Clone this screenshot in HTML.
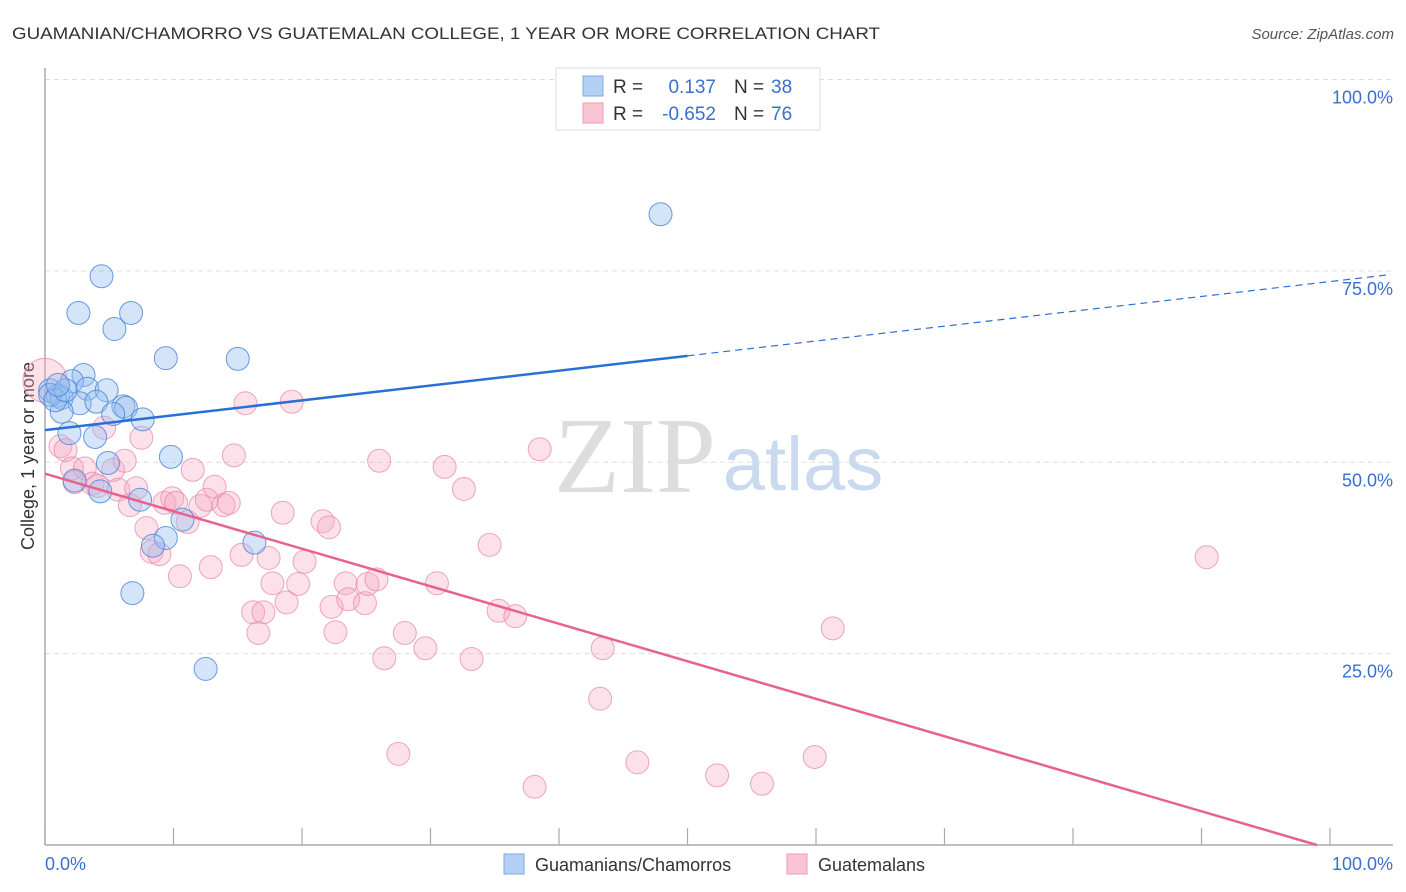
<!DOCTYPE html>
<html><head><meta charset="utf-8"><style>
body{margin:0;background:#fff;}
svg{display:block;font-family:"Liberation Sans",sans-serif;}
</style></head><body>
<svg id="chart" width="1406" height="892">
<text x="12" y="39" font-size="17" fill="#333" textLength="868" lengthAdjust="spacingAndGlyphs">GUAMANIAN/CHAMORRO VS GUATEMALAN COLLEGE, 1 YEAR OR MORE CORRELATION CHART</text>
<text x="1394" y="39" font-size="15" font-style="italic" fill="#555" text-anchor="end">Source: ZipAtlas.com</text>
<text x="34" y="456" font-size="18" fill="#333" text-anchor="middle" transform="rotate(-90 34 456)">College, 1 year or more</text>
<g>
<text x="635" y="492" font-size="108" font-family="Liberation Serif, serif" fill="#ddd" text-anchor="middle">ZIP</text>
<text x="803" y="490" font-size="76" fill="#c9daf0" text-anchor="middle">atlas</text>
</g>
<g id="grid"></g>
<g id="axes"></g>
<g id="marks"></g>
<g>
<rect x="556" y="68" width="264" height="62" fill="#fff" stroke="#ddd"/>
<rect x="583" y="76" width="20" height="20" fill="#b5d0f5" stroke="#7aa7e6"/>
<rect x="583" y="103" width="20" height="20" fill="#f9c5d4" stroke="#ee9ab3"/>
<text x="613" y="93" font-size="19" fill="#333">R = </text>
<text x="716" y="93" font-size="19" fill="#3a6fd0" text-anchor="end">0.137</text>
<text x="734" y="93" font-size="19" fill="#333">N = </text>
<text x="771" y="93" font-size="19" fill="#3a6fd0">38</text>
<text x="613" y="120" font-size="19" fill="#333">R = </text>
<text x="716" y="120" font-size="19" fill="#3a6fd0" text-anchor="end">-0.652</text>
<text x="734" y="120" font-size="19" fill="#333">N = </text>
<text x="771" y="120" font-size="19" fill="#3a6fd0">76</text>
</g>
<g>
<rect x="504" y="854" width="20" height="20" fill="#b5d0f5" stroke="#7aa7e6"/>
<text x="535" y="871" font-size="18" fill="#333">Guamanians/Chamorros</text>
<rect x="787" y="854" width="20" height="20" fill="#f9c5d4" stroke="#ee9ab3"/>
<text x="818" y="871" font-size="18" fill="#333">Guatemalans</text>
</g>
</svg>
<script>
const blueX=[47.9,4.4,2.6,6.7,5.4,9.4,15.0,3.0,2.1,3.3,4.8,0.4,1.0,1.3,2.7,4.0,6.1,6.3,7.6,1.3,1.9,3.9,4.9,9.8,2.3,4.3,7.4,10.7,9.4,8.4,16.3,6.8,12.5,0.4,0.8,1.6,5.3,1.0];
const blueY=[82.4,74.3,69.5,69.5,67.4,63.6,63.5,61.4,60.6,59.6,59.4,59.4,58.7,58.4,57.7,57.9,57.3,57.1,55.6,56.6,53.8,53.3,49.9,50.7,47.6,46.2,45.1,42.5,40.1,39.1,39.5,32.9,23.0,58.8,58.1,59.4,56.3,60.1];
const pinkX=[0,1.2,1.6,2.1,3.1,2.3,3.7,4.1,5.3,6.2,4.6,7.5,5.7,6.6,7.1,7.9,8.3,8.9,9.3,9.9,10.2,10.5,11.1,11.5,12.1,12.6,12.9,13.2,13.9,14.3,14.7,15.3,15.6,16.2,16.6,17.0,17.4,17.7,18.5,18.8,19.2,19.7,20.2,21.6,22.1,22.3,22.6,23.4,23.6,24.9,25.1,25.8,26.0,26.4,27.5,28.0,29.6,30.5,31.1,32.6,33.2,34.6,35.3,36.6,38.1,38.5,43.2,43.4,46.1,52.3,55.8,59.9,61.3,90.4];
const pinkY=[60.7,52.1,51.6,49.2,49.2,47.4,47.2,46.9,49.0,50.2,54.5,53.2,46.4,44.4,46.6,41.4,38.3,38.0,44.7,45.3,44.7,35.1,42.2,49.0,44.3,45.1,36.3,46.8,44.4,44.7,50.9,37.9,57.7,30.4,27.7,30.4,37.5,34.2,43.4,31.7,57.9,34.1,37.0,42.3,41.5,31.1,27.8,34.2,32.1,31.6,34.1,34.7,50.2,24.4,11.9,27.7,25.7,34.2,49.4,46.5,24.3,39.2,30.6,29.9,7.6,51.7,19.1,25.7,10.8,9.1,8.0,11.5,28.3,37.6];
const yTicks=[25,50,75,100];
const yTickLabels=["25.0%","50.0%","75.0%","100.0%"];
const xTicks=[0,10,20,30,40,50,60,70,80,90,100];
const blueTrend=[54.2,0.194];
const pinkTrend=[48.5,-0.49];

const NS="http://www.w3.org/2000/svg";
const sx=v=>45+v*12.85;
const sy=v=>845-v*7.655;
function mk(tag,attrs,parent){const e=document.createElementNS(NS,tag);for(const k in attrs)e.setAttribute(k,attrs[k]);document.getElementById(parent).appendChild(e);return e;}
yTicks.forEach((t,i)=>{
  const g=mk('line',{x1:45,x2:1392,y1:sy(t),y2:sy(t),stroke:'#ddd','stroke-dasharray':'5,4'},'grid');
  
  
  const l=mk('text',{x:1393,y:sy(t)+24,'font-size':18,fill:'#3a6fd0','text-anchor':'end'},'grid');
  l.textContent=yTickLabels[i];
  
  
});
const ya=mk('line',{x1:45,x2:45,y1:68,y2:845,stroke:'#aaa','stroke-width':1.5},'axes');


const xa=mk('line',{x1:45,x2:1393,y1:845,y2:845,stroke:'#aaa','stroke-width':1.5},'axes');


xTicks.forEach(t=>{
  const k=mk('line',{x1:sx(t),x2:sx(t),y1:828,y2:845,stroke:'#aaa','stroke-width':1.2},'axes');
  
  
});
const x0=mk('text',{x:45,y:870,'font-size':18,fill:'#3a6fd0'},'axes');x0.textContent='0.0%';


const x1=mk('text',{x:1393,y:870,'font-size':18,fill:'#3a6fd0','text-anchor':'end'},'axes');x1.textContent='100.0%';



pinkX.forEach((x,i)=>{
  const c=mk('circle',{cx:sx(x),cy:sy(pinkY[i]),r:i===0?22:11.5,fill:'rgba(245,170,195,0.35)',stroke:'rgba(232,130,165,0.7)','stroke-width':1},'marks');
  
  
});
blueX.forEach((x,i)=>{
  const c=mk('circle',{cx:sx(x),cy:sy(blueY[i]),r:11.5,fill:'rgba(150,190,240,0.4)',stroke:'rgba(70,130,215,0.8)','stroke-width':1},'marks');
  
  
});
const bt=x=>blueTrend[0]+blueTrend[1]*x;
const b1=mk('line',{x1:sx(0),y1:sy(bt(0)),x2:sx(50),y2:sy(bt(50)),stroke:'#2a6fd6','stroke-width':2.5},'marks');


const b2=mk('line',{x1:sx(50),y1:sy(bt(50)),x2:sx(104.5),y2:sy(bt(104.5)),stroke:'#2a6fd6','stroke-width':1.2,'stroke-dasharray':'7,5'},'marks');


const pt=x=>pinkTrend[0]+pinkTrend[1]*x;
const pz=-pinkTrend[0]/pinkTrend[1];
const p1=mk('line',{x1:sx(0),y1:sy(pt(0)),x2:sx(pz),y2:sy(0),stroke:'#e8628f','stroke-width':2.5},'marks');


</script>
</body></html>
